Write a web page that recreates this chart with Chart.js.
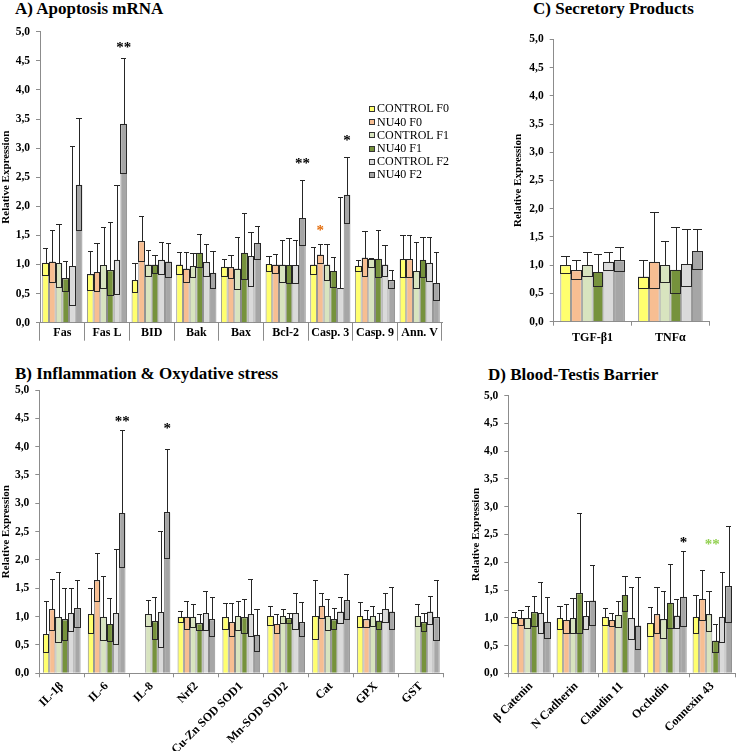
<!DOCTYPE html>
<html><head><meta charset="utf-8">
<script src="https://cdn.jsdelivr.net/npm/chart.js@4.4.1/dist/chart.umd.min.js"></script>
<style>
html,body{margin:0;padding:0;background:#fff;}
body{width:736px;height:751px;position:relative;overflow:hidden;font-family:"Liberation Serif","Times New Roman",serif;}
.title{position:absolute;font-weight:bold;font-size:17px;white-space:nowrap;line-height:17px;color:#000;}
canvas{position:absolute;}
#legend{position:absolute;left:369px;top:102.4px;font-size:12px;line-height:13.2px;color:#000;}
.li{display:flex;align-items:center;white-space:nowrap;height:13.2px;}
.sw{width:4px;height:4px;border:1px solid #333;margin-right:2px;}
</style></head>
<body>
<div class="title" style="left:15px;top:0px;">A) Apoptosis mRNA</div>
<div class="title" style="left:533px;top:-0.5px;">C) Secretory Products</div>
<div class="title" style="left:15px;top:365px;">B) Inflammation &amp; Oxydative stress</div>
<div class="title" style="left:488px;top:366px;">D) Blood-Testis Barrier</div>
<canvas id="cA" width="460" height="345" style="left:0;top:0;width:460px;height:345px;"></canvas>
<canvas id="cC" width="276" height="345" style="left:460px;top:0;width:276px;height:345px;"></canvas>
<canvas id="cB" width="460" height="401" style="left:0;top:350px;width:460px;height:401px;"></canvas>
<canvas id="cD" width="276" height="401" style="left:460px;top:350px;width:276px;height:401px;"></canvas>
<div id="legend"></div>
<script>
// ---------- series ----------
const seriesNames = ['CONTROL F0','NU40 F0','CONTROL F1','NU40 F1','CONTROL F2','NU40 F2'];
const seriesColors = ['#ffff6e','#f7be92','#d8e4bf','#76923c','#dadada','#a6a6a6'];

// ---------- A) Apoptosis mRNA ----------
const apoptosisCategories = ['Fas','Fas L','BID','Bak','Bax','Bcl-2','Casp. 3','Casp. 9','Ann. V'];
const apoptosisMeans = [
  [1.03,0.83,0.73,1.00,0.96,1.01,1.00,0.98,1.09],
  [1.05,0.87,1.40,0.93,0.95,1.00,1.17,1.12,1.09],
  [1.02,0.99,1.00,0.97,0.93,1.00,1.00,1.10,0.89],
  [0.76,0.90,1.00,1.20,1.20,0.99,0.89,1.10,1.08],
  [0.97,1.08,1.08,1.04,1.14,0.99,0.59,1.00,1.03],
  [2.37,3.42,1.05,0.86,1.37,1.80,2.20,0.73,0.68]
];
const apoptosisUpper = [
  [1.28,1.24,1.03,1.21,1.10,1.15,1.30,1.07,1.51],
  [1.60,1.37,1.83,1.22,1.17,1.18,1.35,1.57,1.50],
  [1.69,1.64,1.25,1.20,1.48,1.42,1.35,1.12,1.38],
  [1.06,1.73,1.16,1.52,1.88,1.45,1.13,1.60,1.47],
  [3.04,2.37,1.38,1.35,1.55,1.42,2.16,1.33,1.47],
  [3.51,4.55,1.37,1.23,1.67,2.45,2.85,0.90,1.21]
];
const apoptosisLower = [
  [0.82,0.56,0.52,0.83,0.81,0.89,0.84,0.89,0.79],
  [0.70,0.55,1.06,0.70,0.77,0.85,1.02,0.80,0.79],
  [0.61,0.60,0.80,0.78,0.58,0.70,0.74,0.96,0.59],
  [0.55,0.48,0.86,0.96,0.75,0.69,0.62,0.78,0.79],
  [0.30,0.50,0.84,0.80,0.63,0.69,0.59,0.80,0.72],
  [1.60,2.58,0.79,0.60,1.10,1.33,1.71,0.60,0.39]
];
const apoptosisStars = [
  {category:'Fas L', series:5, at:4.78, text:'**', color:'#000000'},
  {category:'Bcl-2', series:5, at:2.78, text:'**', color:'#000000'},
  {category:'Casp. 3', series:5, at:3.18, text:'*', color:'#000000'},
  {category:'Casp. 3', series:1, at:1.63, text:'*', color:'#e46c0a'}
];

// ---------- C) Secretory Products ----------
const secretoryCategories = ['TGF-β1','TNFα'];
const secretoryMeans = [
  [1.00,0.80],[0.91,1.06],[1.00,1.00],[0.88,0.92],[1.06,1.02],[1.09,1.25]
];
const secretoryUpper = [
  [1.17,1.09],[1.09,1.94],[1.24,1.43],[1.19,1.68],[1.23,1.65],[1.32,1.65]
];
const secretoryLower = [
  [0.87,0.59],[0.75,0.59],[0.81,0.71],[0.63,0.50],[0.91,0.63],[0.90,0.94]
];

// ---------- B) Inflammation & Oxydative stress ----------
const inflammationCategories = ['IL-1β','IL-6','IL-8','Nrf2','Cu-Zn SOD SOD1','Mn-SOD SOD2','Cat','GPX','GST'];
const inflammationMeans = [
  [0.69,1.04,null,1.00,0.99,1.01,1.01,1.01,null],
  [1.13,1.64,null,1.00,0.90,0.87,1.19,0.95,null],
  [0.99,1.00,1.04,1.00,1.01,1.01,1.01,1.01,1.01],
  [0.95,0.87,0.92,0.88,0.99,0.97,0.95,0.93,0.90],
  [1.06,1.06,1.08,1.06,1.04,1.06,1.09,1.13,1.09],
  [1.15,2.83,2.84,0.95,0.68,0.90,1.29,1.09,0.99]
];
const inflammationUpper = [
  [1.27,1.50,null,1.10,1.24,1.19,1.64,1.25,null],
  [1.66,2.12,null,1.28,1.24,1.04,1.42,1.12,null],
  [1.78,1.71,1.30,1.23,1.28,1.14,1.31,1.19,1.22],
  [1.51,1.33,1.34,1.04,1.32,1.06,1.16,1.07,1.07],
  [1.51,2.19,2.52,1.46,1.66,1.41,1.34,1.41,1.36],
  [1.64,4.30,3.96,1.35,1.14,1.25,1.76,1.53,1.65]
];
const inflammationLower = [
  [0.38,0.72,null,0.91,0.78,0.85,0.60,0.81,null],
  [0.77,1.27,null,0.78,0.65,0.72,0.97,0.81,null],
  [0.55,0.58,0.83,0.82,0.77,0.88,0.76,0.84,0.84],
  [0.58,0.57,0.61,0.76,0.72,0.88,0.78,0.78,0.75],
  [0.74,0.51,0.46,0.76,0.66,0.78,0.88,0.90,0.87],
  [0.81,1.87,2.04,0.65,0.40,0.65,0.95,0.78,0.58]
];
const inflammationStars = [
  {category:'IL-6', series:5, at:4.50, text:'**', color:'#000000'},
  {category:'IL-8', series:5, at:4.38, text:'*', color:'#000000'}
];

// ---------- D) Blood-Testis Barrier ----------
const barrierCategories = ['β Catenin','N Cadherin','Claudin 11','Occludin','Connexin 43'];
const barrierMeans = [
  [1.01,0.99,1.01,0.90,1.02],
  [0.99,0.96,0.96,1.06,1.34],
  [0.99,0.99,1.05,0.97,1.06],
  [1.10,1.44,1.41,1.27,0.59],
  [1.08,1.03,0.99,1.04,1.02],
  [0.93,1.31,0.86,1.38,1.57]
];
const barrierUpper = [
  [1.11,1.22,1.17,1.20,1.41],
  [1.14,1.25,1.08,1.55,1.86],
  [1.21,1.35,1.31,1.49,1.48],
  [1.40,2.89,1.75,1.97,0.88],
  [1.64,1.31,1.55,1.33,1.82],
  [1.38,1.95,1.73,2.21,2.66]
];
const barrierLower = [
  [0.90,0.80,0.87,0.68,0.73],
  [0.87,0.73,0.85,0.72,0.96],
  [0.81,0.73,0.84,0.63,0.76],
  [0.85,0.73,1.12,0.82,0.39],
  [0.72,0.80,0.62,0.81,0.57],
  [0.64,0.87,0.43,0.86,0.92]
];
const barrierStars = [
  {category:'Occludin', series:5, at:2.41, text:'*', color:'#000000'},
  {category:'Connexin 43', series:null, at:2.37, text:'**', color:'#92d050'}
];

const yTickValues = [0,0.5,1,1.5,2,2.5,3,3.5,4,4.5,5];

// ---------- rendering ----------
const SERIF = '"Liberation Serif","Times New Roman",serif';
Chart.defaults.font.family = SERIF;
const AXIS = '#8c8c8c';

const errorBarPlugin = {
  id: 'errorBars',
  afterDatasetsDraw(chart, args, opts) {
    const ctx = chart.ctx, ys = chart.scales.y;
    ctx.save();
    ctx.strokeStyle = '#262626';
    ctx.lineWidth = 1;
    chart.data.datasets.forEach((ds, di) => {
      const meta = chart.getDatasetMeta(di);
      meta.data.forEach((bar, i) => {
        const v = ds.data[i];
        if (v == null) return;
        const hi = opts.upper[di][i], lo = opts.lower[di][i];
        const p = bar.getProps(['x','width'], true);
        const half = p.width / 2;
        const xc = Math.round(p.x) + 0.5;
        const yv = Math.round(ys.getPixelForValue(v)) + 0.5;
        const yh = Math.round(ys.getPixelForValue(hi)) + 0.5;
        const yl = Math.round(ys.getPixelForValue(lo)) + 0.5;
        const xl = Math.round(p.x - half) + 0.5, xr = Math.round(p.x + half) - 0.5;
        ctx.strokeRect(xl, yv, xr - xl, yl - yv);
        ctx.beginPath();
        ctx.moveTo(xc, yv); ctx.lineTo(xc, yh);
        ctx.moveTo(Math.round(p.x - half * 0.8), yh); ctx.lineTo(Math.round(p.x + half * 0.8), yh);
        ctx.stroke();
      });
    });
    ctx.restore();
  }
};

const starPlugin = {
  id: 'stars',
  afterDatasetsDraw(chart, args, opts) {
    const ctx = chart.ctx, ys = chart.scales.y, xs = chart.scales.x;
    ctx.save();
    ctx.font = 'bold 15px ' + SERIF;
    ctx.textAlign = 'center';
    ctx.textBaseline = 'alphabetic';
    (opts.items || []).forEach(s => {
      const ci = chart.data.labels.indexOf(s.category);
      let x;
      if (s.series == null) x = xs.getPixelForValue(ci);
      else x = chart.getDatasetMeta(s.series).data[ci].x;
      const y = ys.getPixelForValue(s.at);
      ctx.fillStyle = s.color;
      ctx.fillText(s.text, x, y + 7.5);
    });
    ctx.restore();
  }
};

function buildPanel(id, cats, means, upper, lower, stars, cfg) {
  const datasets = means.map((arr, i) => ({
    label: seriesNames[i],
    data: arr,
    backgroundColor: seriesColors[i],
    borderColor: '#8c8c8c',
    borderWidth: 1,
    categoryPercentage: cfg.catPct,
    barPercentage: 1.0
  }));
  return new Chart(document.getElementById(id), {
    type: 'bar',
    data: { labels: cats, datasets },
    plugins: [errorBarPlugin, starPlugin],
    options: {
      responsive: false,
      animation: false,
      layout: { padding: cfg.padding },
      plugins: {
        legend: { display: false },
        tooltip: { enabled: false },
        title: { display: false },
        errorBars: { upper, lower },
        stars: { items: stars }
      },
      scales: {
        x: {
          type: 'category',
          offset: true,
          grid: { display: true, drawOnChartArea: false, offset: true, color: AXIS, tickLength: cfg.xTickLength, tickWidth: 1 },
          border: { color: AXIS, width: 1 },
          ticks: { font: { size: 12, weight: 'bold', family: SERIF }, color: '#000', padding: cfg.xTickPadding,
                   maxRotation: cfg.rotation, minRotation: cfg.rotation, autoSkip: false },
          afterFit(s) { s.height = cfg.xHeight; }
        },
        y: {
          min: 0, max: 5,
          afterBuildTicks(s) { s.ticks = yTickValues.map(v => ({ value: v })); },
          ticks: { callback: v => Number(v).toFixed(1).replace('.', ','), font: { size: 11.5, weight: 'bold', family: SERIF }, color: '#000', padding: 6 },
          grid: { display: true, drawOnChartArea: false, color: AXIS, tickLength: 4 },
          border: { color: AXIS, width: 1 },
          title: { display: true, text: 'Relative Expression', font: { size: 11, weight: 'bold', family: SERIF }, color: '#000', padding: 0 },
          afterFit(s) { s.width = cfg.yWidth; }
        }
      }
    }
  });
}

buildPanel('cA', apoptosisCategories, apoptosisMeans, apoptosisUpper, apoptosisLower, apoptosisStars, {
  catPct: 0.9, padding: { left: 0, top: 31.7, right: 18, bottom: 0 }, yWidth: 40, xHeight: 22.3,
  xTickLength: 18, xTickPadding: -15, rotation: 0
});
buildPanel('cC', secretoryCategories, secretoryMeans, secretoryUpper, secretoryLower, [], {
  catPct: 0.83, padding: { left: 51.4, top: 39.3, right: 26.7, bottom: 0 }, yWidth: 42.3, xHeight: 23.3,
  xTickLength: 4, xTickPadding: 5, rotation: 0
});
buildPanel('cB', inflammationCategories, inflammationMeans, inflammationUpper, inflammationLower, inflammationStars, {
  catPct: 0.84, padding: { left: 0, top: 40, right: 16.7, bottom: 0 }, yWidth: 39.3, xHeight: 77.7,
  xTickLength: 4, xTickPadding: 2, rotation: 45
});
buildPanel('cD', barrierCategories, barrierMeans, barrierUpper, barrierLower, barrierStars, {
  catPct: 0.87, padding: { left: 9.4, top: 45.7, right: 1, bottom: 0 }, yWidth: 38.9, xHeight: 77.7,
  xTickLength: 4, xTickPadding: 2, rotation: 45
});

// legend built from the series names / colours
const lg = document.getElementById('legend');
seriesNames.forEach((n, i) => {
  const row = document.createElement('div');
  row.className = 'li';
  const sw = document.createElement('span');
  sw.className = 'sw';
  sw.style.background = seriesColors[i];
  const t = document.createElement('span');
  t.textContent = n;
  row.appendChild(sw); row.appendChild(t);
  lg.appendChild(row);
});
</script>
</body></html>
